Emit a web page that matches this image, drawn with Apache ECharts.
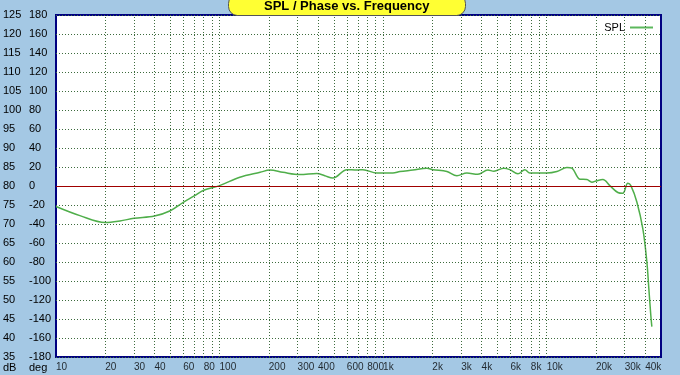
<!DOCTYPE html>
<html>
<head>
<meta charset="utf-8">
<script src="https://cdn.jsdelivr.net/npm/echarts@6/dist/echarts.min.js"></script>
<style>
html,body{margin:0;padding:0;background:#a4c8e4;}
#c{width:680px;height:375px;}
</style>
</head>
<body>
<div id="c"></div>
<script>
const freqs = [10,14,20,24.6,30,40,50,60,70,80,100,133,177,203,244,310,393,440,493,601,692,752,916,1148,1267,1521,1852,2016,2455,2825,3252,3797,4371,4757,5475,5958,6670,7358,7888,10020,11540,13290,14260,15960,17610,18890,20260,22060,24330,27230,29210,31330,32710,35590,38730,40980,42150,43350,43960];
const spl = [74.6,72.2,70.4,70.8,71.5,72.1,73.5,75.7,77.4,78.9,80.1,82.3,83.6,84.2,83.6,83.0,83.3,82.7,82.1,84.3,84.2,84.3,83.4,83.4,83.8,84.2,84.7,84.3,83.8,82.7,83.4,83.1,84.2,83.9,84.7,84.3,83.2,84.3,83.4,83.4,83.8,84.9,84.7,81.8,81.7,81.0,81.4,81.7,80.1,78.3,78.1,80.7,80.1,75.8,68.7,60,52.9,45.8,43];
const gridFreqs = [20,30,40,50,60,70,80,90,100,200,300,400,500,600,700,800,900,1000,2000,3000,4000,5000,6000,7000,8000,9000,10000,20000,30000,40000];
const xTickValues = [10,20,30,40,60,80,100,200,300,400,600,800,1000,2000,3000,4000,6000,8000,10000,20000,30000,40000];
const xTickLabels = ['10','20','30','40','60','80','100','200','300','400','600','800','1k','2k','3k','4k','6k','8k','10k','20k','30k','40k'];
const splMin = 35, splMax = 125, splStep = 5;
const phaseMin = -180, phaseMax = 180, phaseStep = 20;
const refLevel = 80;

const FONT = 'Liberation Sans, Arial, sans-serif';
const chart = echarts.init(document.getElementById('c'), null, {renderer: 'canvas'});
chart.setOption({
  animation: false,
  backgroundColor: '#a4c8e4',
  textStyle: {fontFamily: FONT},
  title: {
    text: 'SPL / Phase vs. Frequency',
    left: 228, top: -6,
    padding: [6, 36, 3, 36],
    backgroundColor: '#ffff33',
    borderColor: '#555',
    borderWidth: 1,
    borderRadius: 9,
    textStyle: {fontFamily: FONT, fontSize: 13, fontWeight: 'bold', color: '#000'}
  },
  legend: {
    data: ['SPL'],
    right: 22, top: 17,
    align: 'right',
    icon: 'rect',
    itemWidth: 23, itemHeight: 2,
    itemGap: 4,
    textStyle: {fontFamily: FONT, fontSize: 11, color: '#000', padding: [10, 0, 0, 0]}
  },
  grid: {
    left: 56, top: 15, right: 19, bottom: 18,
    show: true, backgroundColor: '#fff', borderColor: '#000080', borderWidth: 2
  },
  xAxis: {
    type: 'log', logBase: 10, min: 10, max: 50000,
    axisLine: {show: false}, axisTick: {show: false}, axisLabel: {show: false}, splitLine: {show: false}
  },
  yAxis: [
    {
      type: 'value', min: splMin, max: splMax, interval: splStep, position: 'left', offset: 0,
      axisLine: {show: false}, axisTick: {show: false},
      axisLabel: {align: 'left', margin: 53, fontSize: 11, color: '#000', fontFamily: FONT},
      splitLine: {show: true, lineStyle: {color: '#3d6b3d', type: [1, 2], width: 1}}
    },
    {
      type: 'value', min: phaseMin, max: phaseMax, interval: phaseStep, position: 'left', offset: 0,
      axisLine: {show: false}, axisTick: {show: false},
      axisLabel: {align: 'left', margin: 27, fontSize: 11, color: '#000', fontFamily: FONT},
      splitLine: {show: false}
    }
  ],
  graphic: [
    {type: 'text', left: 3, top: 362, style: {text: 'dB', fontSize: 11, fontFamily: FONT, fill: '#000'}},
    {type: 'text', left: 29, top: 362, style: {text: 'deg', fontSize: 11, fontFamily: FONT, fill: '#000'}}
  ],
  series: [
    {
      name: 'grid', type: 'line', data: [], z: 1, silent: true,
      markLine: {
        silent: true, symbol: ['none', 'none'], label: {show: false}, animation: false,
        lineStyle: {color: '#3d6b3d', type: [1, 2], width: 1},
        data: gridFreqs.map(f => ({xAxis: f}))
      }
    },
    {
      name: 'ticks', type: 'scatter', symbolSize: 0, silent: true, z: 1,
      data: xTickValues.map((v, i) => ({value: [v, splMin], name: xTickLabels[i]})),
      label: {show: true, position: [0, 5], formatter: p => p.name, fontSize: 10, color: '#000', fontFamily: FONT}
    },
    {
      name: 'SPL', type: 'line', z: 3,
      data: freqs.map((f, i) => [f, spl[i]]),
      showSymbol: false, symbol: 'none',
      smooth: 0.35,
      lineStyle: {color: '#4fae4a', width: 1.5},
      itemStyle: {color: '#5cb85c'},
      markLine: {
        silent: true, symbol: ['none', 'none'], label: {show: false}, animation: false,
        lineStyle: {color: '#a00000', type: 'solid', width: 1},
        data: [{yAxis: refLevel}]
      }
    }
  ]
});
</script>
</body>
</html>
